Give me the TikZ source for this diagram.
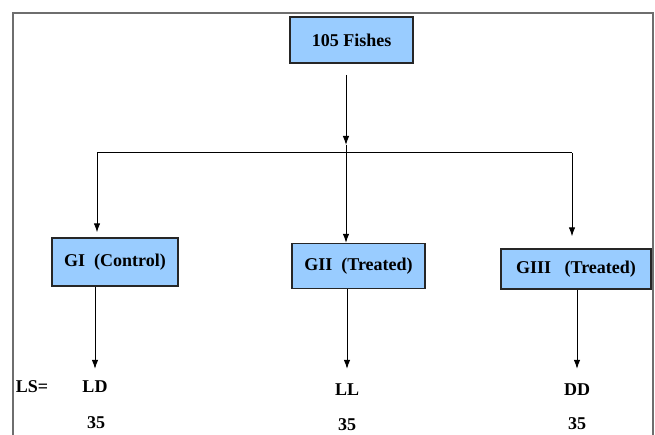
\documentclass[tikz,border=0pt]{standalone}
\usepackage{fontspec}
\setmainfont{Liberation Serif}
\usepackage{tikz}
\definecolor{boxblue}{RGB}{153,204,255}
\definecolor{framegray}{RGB}{110,110,110}
\usetikzlibrary{arrows.meta, calc}

\begin{document}
\begin{tikzpicture}[x=1pt, y=-1pt,
			>={Latex[length=9pt,width=6.5pt]},   %Pfeilspitzen
			group/.style={draw=black!85, line width=1.3pt, fill=boxblue, inner sep=0pt},
			label/.style={inner sep=1pt},
			link/.style={line width=1pt},
			font=\fontsize{18}{21}\selectfont\bfseries]
			%Bildbereich
			\useasboundingbox (0,0) rectangle (655,435);
			\clip (0,0) rectangle (655,435);
			%Rahmen
			\draw[framegray, line width=1.4pt] (13,13) rectangle (653,460);
			% Kaesten
			\node[group, minimum width=123pt, minimum height=46pt] (fish) at (351.5,40) {105 Fishes};
			\node[group, minimum width=126pt, minimum height=48pt] (gI) at (115,262) {GI\ \ (Control)};
			\node[group, minimum width=133pt, minimum height=45pt] (gII) at (358.5,266) {GII\ \ (Treated)};
			\node[group, minimum width=150pt, minimum height=40pt] (gIII) at (576,269) {GIII\ \ \ (Treated)};
			% Beschriftung unten
			\node[label] (ls) at (32,387) {LS=};
			\node[label] (ld) at (95,387) {LD};
			\node[label] (ll) at (347,390) {LL};
			\node[label] (dd) at (577,390) {DD};
			\node[label] (nI) at (96,423) {35};
			\node[label] (nII) at (347,425) {35};
			\node[label] (nIII) at (577,424) {35};
			% Verzweigung
			\coordinate (top) at (346,75);
			\coordinate (hub) at (346,153);
			\coordinate (lft) at (97,153);
			\coordinate (rgt) at (572,153);
			\draw[->, link] (top) -- ([yshift=8pt]hub);
			\draw[link] (lft) -- (rgt);
			\draw[->, link] (lft) -- ([yshift=5pt]lft |- gI.north);
			\draw[->, link] ([yshift=8pt]hub) -- (hub |- gII.north);
			\draw[->, link] (rgt) -- ([yshift=12pt]rgt |- gIII.north);
			% Pfeile zu den Gruppen
			\draw[->, link] (gI.south -| ld) -- ([yshift=11pt]ld.north);
			\draw[->, link] (gII.south -| ll) -- ([yshift=14pt]ll.north);
			\draw[->, link] (gIII.south -| dd) -- ([yshift=14pt]dd.north);
		\end{tikzpicture}
\end{document}
